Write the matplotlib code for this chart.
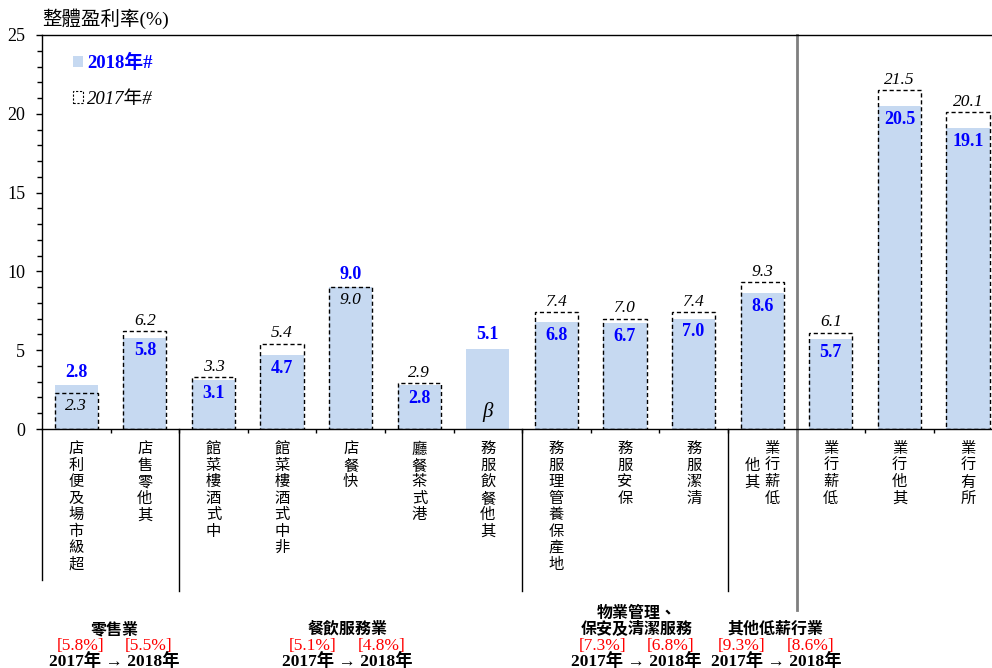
import numpy as np
import matplotlib.pyplot as plt
import matplotlib.transforms as mtransforms
from matplotlib.patches import Patch

plt.rcParams['font.family'] = ['Liberation Serif', 'Noto Sans CJK TC']

# data
categories = [['超級市場及便利店'], ['其他零售店'], ['中式酒樓菜館'], ['非中式酒樓菜館'],
              ['快餐店'], ['港式茶餐廳'], ['其他餐飲服務'], ['地產保養管理服務'],
              ['保安服務'], ['清潔服務'], ['其他', '低薪行業'], ['低薪行業'],
              ['其他行業'], ['所有行業']]
margin_2018 = [2.8, 5.8, 3.1, 4.7, 9.0, 2.8, 5.1, 6.8, 6.7, 7.0, 8.6, 5.7, 20.5, 19.1]
margin_2017 = [2.3, 6.2, 3.3, 5.4, 9.0, 2.9, np.nan, 7.4, 7.0, 7.4, 9.3, 6.1, 21.5, 20.1]

group_names = ['零售業', '餐飲服務業', '物業管理、\n保安及清潔服務', '其他低薪行業']
group_2017 = ['[5.8%]', '[5.1%]', '[7.3%]', '[9.3%]']
group_2018 = ['[5.5%]', '[4.8%]', '[6.8%]', '[8.6%]']
group_label_x = [0.56, 3.95, 8.17, 10.2]

blue_fill = '#C6D9F1'
label_blue = '#0000FF'

fig = plt.figure(figsize=(9.92, 6.68), dpi=100)
ax = fig.add_axes([42 / 992, 239 / 668, 950 / 992, 394 / 668])

x = np.arange(len(categories))
w = 0.63
ax.bar(x, margin_2018, width=w, color=blue_fill, zorder=1)
ax.bar(x, margin_2017, width=w, facecolor='none', edgecolor='black',
       linestyle=(0, (3, 2)), linewidth=1, zorder=2)

# value labels
for i, (v18, v17) in enumerate(zip(margin_2018, margin_2017)):
    if np.isnan(v17):
        ax.annotate(f'{v18:.1f}', (i, v18), xytext=(0, 10), textcoords='offset points',
                    ha='center', va='center', color=label_blue, fontweight='bold', fontsize=13)
        ax.annotate('β', (i, 0), xytext=(0, 12), textcoords='offset points',
                    ha='center', va='center', fontstyle='italic', fontsize=15)
    elif v18 >= v17:
        ax.annotate(f'{v18:.1f}', (i, v18), xytext=(0, 9), textcoords='offset points',
                    ha='center', va='center', color=label_blue, fontweight='bold', fontsize=13)
        ax.annotate(f'{v17:.1f}', (i, v17), xytext=(0, -9.5), textcoords='offset points',
                    ha='center', va='center', fontstyle='italic', fontsize=12.5)
    else:
        ax.annotate(f'{v17:.1f}', (i, v17), xytext=(0, 7.5), textcoords='offset points',
                    ha='center', va='center', fontstyle='italic', fontsize=12.5)
        ax.annotate(f'{v18:.1f}', (i, v18), xytext=(0, -9.5), textcoords='offset points',
                    ha='center', va='center', color=label_blue, fontweight='bold', fontsize=13)

ax.set_xlim(-0.5, 13.35)
ax.set_ylim(0, 25)
ax.set_yticks(np.arange(0, 26, 5))
ax.set_yticks(np.arange(0, 26, 1), minor=True)
ax.tick_params(axis='y', which='major', length=4, width=1, labelsize=13, pad=8)
ax.tick_params(axis='y', which='minor', length=3.5, width=1)
ax.set_xticks(x[:-1] + 0.5)
ax.set_xticklabels([])
ax.tick_params(axis='x', length=3, width=1)
ax.spines['right'].set_visible(False)
for s in ['left', 'top', 'bottom']:
    ax.spines[s].set_linewidth(1)

# vertical category labels: upright glyphs, read bottom to top
xt = mtransforms.blended_transform_factory(ax.transData, ax.transAxes)
for i, cols in enumerate(categories):
    n = len(cols)
    longest = max(len(c) for c in cols)
    for k, col in enumerate(cols):
        dx = (k - (n - 1) / 2) * 0.29
        stack = '\n'.join(reversed(col))
        top = -0.029 - (longest - len(col)) * 0.0208
        ax.text(i + dx, top, stack, transform=xt, ha='center', va='top',
                fontsize=11, linespacing=0.96, family='Noto Sans CJK TC')

# group separators below the axis
for bx, ybot in [(-0.5, -0.383), (1.5, -0.41), (6.5, -0.41), (9.5, -0.41)]:
    ax.plot([bx, bx], [0, ybot], transform=xt, color='black', lw=1, clip_on=False)
ax.plot([10.5, 10.5], [1, -0.46], transform=xt, color='#7F7F7F', lw=2, clip_on=False)

# group captions
gt = mtransforms.blended_transform_factory(ax.transData, fig.transFigure)
for gx, name, r17, r18 in zip(group_label_x, group_names, group_2017, group_2018):
    ax.text(gx, 1 - 638 / 668, name, transform=gt, ha='center', va='bottom',
            fontsize=11.5, fontweight='bold', linespacing=1.0,
            family=['Liberation Serif', 'Noto Sans CJK TC'])
    ax.text(gx - 0.5, 1 - 646 / 668, r17, transform=gt, ha='center', va='center',
            fontsize=12.5, color='red')
    ax.text(gx + 0.5, 1 - 646 / 668, r18, transform=gt, ha='center', va='center',
            fontsize=12.5, color='red')
    ax.text(gx, 1 - 662 / 668, '2017年 → 2018年', transform=gt, ha='center', va='center',
            fontsize=12.5, fontweight='bold')

# legend
handles = [Patch(facecolor=blue_fill, edgecolor='none'),
           Patch(facecolor='none', edgecolor='black', linestyle=(0, (2, 1.5)), linewidth=0.8)]
leg = ax.legend(handles, ['2018年#', '2017年#'], loc='upper left',
                bbox_to_anchor=(0.015, 0.995), frameon=False, fontsize=13.5,
                handlelength=0.55, handleheight=0.55, handletextpad=0.2, labelspacing=1.0)
leg.get_texts()[0].set_color(label_blue)
leg.get_texts()[0].set_fontweight('bold')
leg.get_texts()[1].set_fontstyle('italic')

fig.text(42 / 992, 1 - 19 / 668, '整體盈利率(%)', ha='left', va='center', fontsize=14)

fig.savefig('out.png', dpi=100)
